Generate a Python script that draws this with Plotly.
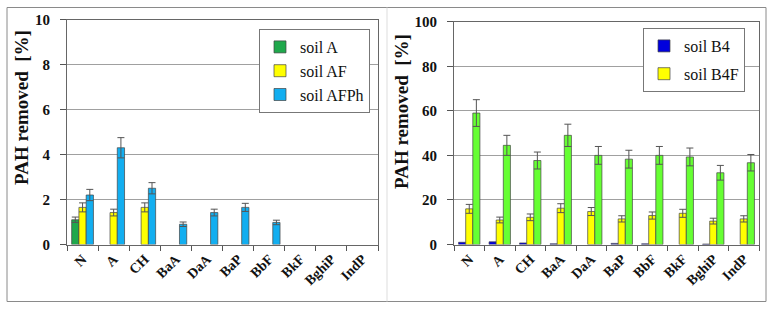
import plotly.graph_objects as go

W, H = 774, 309

categories = ["N", "A", "CH", "BaA", "DaA", "BaP", "BbF", "BkF", "BghiP", "IndP"]

# Left panel
soil_A = [1.1, 0, 0, 0, 0, 0, 0, 0, 0, 0]
soil_A_err = [0.12, None, None, None, None, None, None, None, None, None]
soil_AF = [1.65, 1.42, 1.65, 0, 0, 0, 0, 0, 0, 0]
soil_AF_err = [0.2, 0.15, 0.2, None, None, None, None, None, None, None]
soil_AFPh = [2.2, 4.3, 2.5, 0.9, 1.42, 1.65, 0.98, 0, 0, 0]
soil_AFPh_err = [0.25, 0.45, 0.25, 0.1, 0.15, 0.18, 0.1, None, None, None]

# Right panel
soil_B4 = [1.0, 1.2, 0.7, 0.3, 0, 0.5, 0.3, 0, 0.2, 0]
soil_B4F = [16.0, 11.0, 12.2, 16.3, 14.8, 11.5, 13.0, 14.0, 10.5, 11.5]
soil_B4F_err = [2.0, 1.3, 1.5, 2.0, 1.8, 1.4, 1.6, 1.8, 1.3, 1.4]
soil_B4FPh = [59.0, 44.5, 37.7, 49.0, 40.0, 38.3, 40.0, 39.3, 32.2, 36.7]
soil_B4FPh_err = [6.0, 4.5, 3.8, 5.0, 4.0, 4.0, 4.0, 4.0, 3.3, 3.7]

left_ticks = [0, 2, 4, 6, 8, 10]
right_ticks = [0, 20, 40, 60, 80, 100]

SERIF = "Liberation Serif"
OUT = "#444444"


def nz(vals):
    # zero-height bars are not drawn in the original
    return [v if v else None for v in vals]


def err(arr):
    return dict(type="data", array=arr, color="#555555", thickness=1, width=3.5, visible=True)


def bar(y, name, color, ax, ay, e=None, **kw):
    d = dict(x=categories, y=nz(y), name=name,
             marker=dict(color=color, line=dict(color=OUT, width=0.7)),
             xaxis=ax, yaxis=ay, **kw)
    if e is not None:
        d["error_y"] = err(e)
    return go.Bar(**d)


fig = go.Figure()
fig.add_trace(bar(soil_A, "soil A", "#1fa84c", "x", "y", soil_A_err, legend="legend"))
fig.add_trace(bar(soil_AF, "soil AF", "#ffff00", "x", "y", soil_AF_err, legend="legend"))
fig.add_trace(bar(soil_AFPh, "soil AFPh", "#12aef0", "x", "y", soil_AFPh_err, legend="legend"))
fig.add_trace(bar(soil_B4, "soil B4", "#0000dd", "x2", "y2", None, legend="legend2", legendgroup="g1"))
fig.add_trace(bar(soil_B4F, "soil B4F", "#ffff00", "x2", "y2", soil_B4F_err, legend="legend2", legendgroup="g2"))
fig.add_trace(bar(soil_B4FPh, "soil B4FPh", "#66ff33", "x2", "y2", soil_B4FPh_err, showlegend=False))

tickfont = dict(family=SERIF, size=15, color="#111111", weight="bold")
xfont = dict(family=SERIF, size=14, color="#111111", weight="bold")


def xax(domain, anchor):
    return dict(domain=domain, anchor=anchor, type="category", tickangle=-45, tickfont=xfont,
                ticks="outside", ticklen=5, tickcolor="#555555", tickson="boundaries",
                showline=True, linecolor="#666666", linewidth=1, mirror=True,
                showgrid=False, zeroline=False, fixedrange=True, automargin=False)


def yax(domain, anchor, rng, vals):
    return dict(domain=domain, anchor=anchor, range=rng, tickvals=vals, tickfont=tickfont,
                ticks="outside", ticklen=6, tickcolor="#555555", ticklabelstandoff=7,
                showline=True, linecolor="#666666", linewidth=1, mirror=True,
                showgrid=True, gridcolor="#a0a0a0", gridwidth=1, zeroline=False, fixedrange=True,
                automargin=False)


def py(px):
    return 1 - px / H


legfont = dict(family=SERIF, size=16, color="#111111")

fig.update_layout(
    width=W, height=H,
    font=dict(family=SERIF),
    margin=dict(l=0, r=0, t=0, b=0, autoexpand=False),
    paper_bgcolor="white", plot_bgcolor="white",
    barmode="group", bargap=0.3, bargroupgap=0,
    xaxis=xax([67 / W, 378 / W], "y"),
    yaxis=yax([py(244.5), py(19.5)], "x", [0, 10], left_ticks),
    xaxis2=xax([454 / W, 759 / W], "y2"),
    yaxis2=yax([py(244.5), py(21.7)], "x2", [0, 100], right_ticks),
    legend=dict(x=259 / W, y=py(29), xanchor="left", yanchor="top", bgcolor="white",
                bordercolor="#777777", borderwidth=1, font=legfont,
                itemwidth=30, tracegroupgap=0),
    legend2=dict(x=643 / W, y=py(28), xanchor="left", yanchor="top", bgcolor="white",
                 bordercolor="#777777", borderwidth=1, font=legfont,
                 itemwidth=30, tracegroupgap=4, traceorder="grouped"),
    showlegend=True,
    annotations=[
        dict(text="PAH removed  [%]", textangle=-90, x=21 / W, y=py(108), xref="paper", yref="paper",
             xanchor="center", yanchor="middle",
             showarrow=False, font=dict(family=SERIF, size=19, color="#111111", weight="bold")),
        dict(text="PAH removed  [%]", textangle=-90, x=401 / W, y=py(112), xref="paper", yref="paper",
             xanchor="center", yanchor="middle",
             showarrow=False, font=dict(family=SERIF, size=19, color="#111111", weight="bold")),
    ],
    shapes=[
        dict(type="rect", xref="paper", yref="paper", x0=7 / W, x1=766 / W, y0=py(301.5), y1=py(7.5),
             line=dict(color="#8a8a8a", width=1)),
        dict(type="line", xref="paper", yref="paper", x0=387 / W, x1=387 / W, y0=py(301.5), y1=py(7.5),
             line=dict(color="#dddddd", width=1)),
    ],
)

fig.write_html("out.html", config={"displayModeBar": False},
               post_script="document.body.style.margin='0px';document.body.style.overflow='hidden';")
